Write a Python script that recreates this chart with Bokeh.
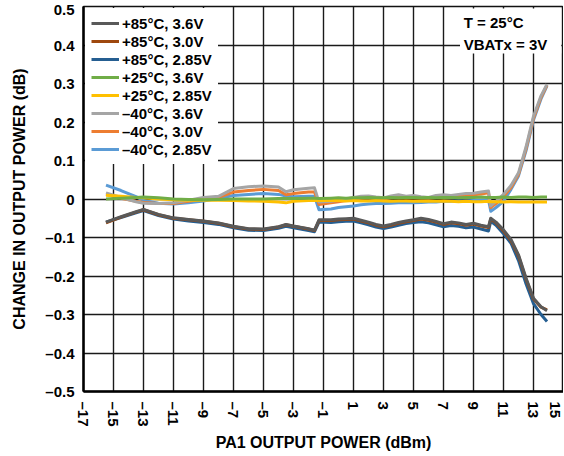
from bokeh.plotting import figure
from bokeh.models import Range1d, FixedTicker, Legend, LegendItem, Label, BoxAnnotation
from bokeh.embed import file_html
from bokeh.resources import INLINE

# ---- data ----
X = [-15.5, -14.5, -13.5, -13, -12, -11, -10, -9, -8, -7, -6, -5, -4, -3.5, -3, -2, -1.6, -1.3,
     -0.5, 0, 0.5, 1, 1.5, 2, 2.5, 3, 3.5, 4, 4.5, 5, 5.5, 6, 6.5, 7, 7.5, 8, 8.5, 9, 9.5, 10,
     10.15, 10.5, 11, 11.5, 12, 12.5, 13, 13.5, 13.9]

P85_36 = [-0.060, -0.046, -0.033, -0.027, -0.040, -0.049, -0.053, -0.057, -0.062, -0.071, -0.077, -0.078,
          -0.072, -0.066, -0.070, -0.077, -0.081, -0.054, -0.054, -0.052, -0.051, -0.050, -0.055, -0.060,
          -0.066, -0.070, -0.066, -0.061, -0.057, -0.054, -0.050, -0.053, -0.058, -0.064, -0.060, -0.062,
          -0.066, -0.063, -0.068, -0.072, -0.050, -0.060, -0.080, -0.105, -0.145, -0.205, -0.258, -0.280, -0.290]
P85_30 = [-0.062, -0.047, -0.034, -0.028, -0.041, -0.050, -0.054, -0.058, -0.063, -0.072, -0.078, -0.079,
          -0.073, -0.067, -0.071, -0.078, -0.082, -0.056, -0.056, -0.054, -0.053, -0.052, -0.057, -0.062,
          -0.068, -0.072, -0.068, -0.063, -0.059, -0.056, -0.052, -0.055, -0.060, -0.066, -0.062, -0.064,
          -0.068, -0.065, -0.070, -0.074, -0.052, -0.062, -0.083, -0.108, -0.148, -0.208, -0.260, -0.281, -0.288]
P85_285 = [-0.060, -0.048, -0.036, -0.030, -0.043, -0.052, -0.057, -0.061, -0.066, -0.075, -0.081, -0.082,
           -0.076, -0.071, -0.075, -0.082, -0.085, -0.060, -0.061, -0.059, -0.058, -0.057, -0.062, -0.067,
           -0.073, -0.077, -0.073, -0.068, -0.064, -0.061, -0.059, -0.062, -0.067, -0.072, -0.069, -0.071,
           -0.075, -0.073, -0.078, -0.083, -0.058, -0.068, -0.090, -0.115, -0.160, -0.220, -0.272, -0.300, -0.318]
P25_36 = [0.000, 0.002, 0.004, 0.005, 0.003, 0.000, -0.001, -0.002, -0.001, 0.000, 0.000, 0.000,
          0.001, 0.001, 0.001, 0.002, 0.002, 0.001, 0.002, 0.003, 0.002, 0.003, 0.003, 0.004,
          0.003, 0.003, 0.004, 0.003, 0.004, 0.004, 0.003, 0.004, 0.003, 0.004, 0.004, 0.003,
          0.004, 0.004, 0.005, 0.004, 0.004, 0.004, 0.005, 0.004, 0.005, 0.005, 0.004, 0.005, 0.005]
P25_285 = [0.010, 0.007, 0.004, 0.003, 0.000, -0.002, -0.003, -0.003, -0.003, -0.004, -0.005, -0.006,
           -0.008, -0.010, -0.006, -0.004, -0.004, -0.004, -0.004, -0.004, -0.005, -0.004, -0.005, -0.005,
           -0.004, -0.005, -0.006, -0.005, -0.005, -0.006, -0.005, -0.006, -0.006, -0.005, -0.006, -0.007,
           -0.006, -0.007, -0.007, -0.006, -0.007, -0.007, -0.008, -0.007, -0.008, -0.008, -0.008, -0.008, -0.008]
M40_36 = [0.016, 0.004, -0.007, -0.011, -0.012, -0.010, -0.003, 0.004, 0.007, 0.027, 0.032, 0.034,
          0.031, 0.019, 0.024, 0.028, 0.029, -0.008, -0.006, -0.003, 0.000, 0.004, 0.007, 0.008,
          0.005, 0.003, 0.008, 0.011, 0.007, 0.009, 0.006, 0.004, 0.009, 0.011, 0.009, 0.012,
          0.014, 0.015, 0.018, 0.021, -0.018, -0.006, 0.012, 0.035, 0.068, 0.135, 0.215, 0.268, 0.298]
M40_30 = [0.012, 0.002, -0.006, -0.009, -0.012, -0.012, -0.006, 0.000, 0.004, 0.018, 0.022, 0.025,
          0.022, 0.011, 0.014, 0.018, 0.018, -0.014, -0.010, -0.007, -0.004, 0.000, 0.002, 0.003,
          0.001, 0.000, 0.003, 0.005, 0.003, 0.004, 0.003, 0.002, 0.004, 0.006, 0.006, 0.008,
          0.010, 0.011, 0.013, 0.016, -0.022, -0.012, 0.006, 0.030, 0.064, 0.130, 0.210, 0.264, 0.296]
M40_285 = [0.036, 0.022, 0.006, -0.004, -0.011, -0.013, -0.010, -0.005, 0.002, 0.009, 0.012, 0.014,
           0.012, 0.008, 0.006, 0.007, 0.007, -0.028, -0.026, -0.022, -0.020, -0.018, -0.015, -0.013,
           -0.012, -0.012, -0.011, -0.010, -0.010, -0.010, -0.009, -0.008, -0.008, -0.006, -0.006, -0.005,
           -0.005, -0.004, -0.003, -0.002, -0.032, -0.022, -0.006, 0.025, 0.060, 0.125, 0.205, 0.260, 0.294]

SERIES = [
    ("+85°C, 3.6V", P85_36, "#595959"),
    ("+85°C, 3.0V", P85_30, "#9E480E"),
    ("+85°C, 2.85V", P85_285, "#255E91"),
    ("+25°C, 3.6V", P25_36, "#70AD47"),
    ("+25°C, 2.85V", P25_285, "#FFC000"),
    ("\u201340°C, 3.6V", M40_36, "#A5A5A5"),
    ("\u201340°C, 3.0V", M40_30, "#ED7D31"),
    ("\u201340°C, 2.85V", M40_285, "#5B9BD5"),
]

X_TICKS = [-17, -15, -13, -11, -9, -7, -5, -3, -1, 1, 3, 5, 7, 9, 11, 13, 15]
X_LABELS = ["\u201317", "\u201315", "\u201313", "\u201311", "\u20139", "\u20137", "\u20135", "\u20133",
            "\u20131", "1", "3", "5", "7", "9", "11", "13", "15"]
Y_TICKS = [-0.5, -0.4, -0.3, -0.2, -0.1, 0, 0.1, 0.2, 0.3, 0.4, 0.5]
Y_LABELS = ["\u20130.5", "\u20130.4", "\u20130.3", "\u20130.2", "\u20130.1", "0",
            "0.1", "0.2", "0.3", "0.4", "0.5"]

FONT = "Liberation Sans"

p = figure(frame_width=480, frame_height=385, x_range=Range1d(-17, 15), y_range=Range1d(-0.5, 0.5),
           output_backend="svg", toolbar_location=None,
           min_border_left=83, min_border_right=0, min_border_top=6, min_border_bottom=50)
p.background_fill_color = "white"
p.border_fill_color = "white"
p.outline_line_color = "#111111"
p.outline_line_width = 1.5

for ax, ticks, labels in ((p.xaxis[0], X_TICKS, X_LABELS), (p.yaxis[0], Y_TICKS, Y_LABELS)):
    ax.ticker = FixedTicker(ticks=ticks)
    ax.major_label_overrides = dict(zip(ticks, labels))
    ax.axis_line_color = "#000000"
    ax.axis_line_width = 2.5
    ax.major_tick_in = 0
    ax.major_tick_out = 0
    ax.minor_tick_in = 0
    ax.minor_tick_out = 0
    ax.major_label_text_font = FONT
    ax.major_label_text_font_style = "bold"
    ax.major_label_text_font_size = "15px"
    ax.major_label_text_color = "#000000"
    ax.axis_label_text_font = FONT
    ax.axis_label_text_font_style = "bold"
    ax.axis_label_text_font_size = "16px"
    ax.axis_label_text_color = "#000000"

p.xaxis.major_label_orientation = "vertical"
p.xaxis.major_label_standoff = 10
p.xaxis.axis_label = "PA1 OUTPUT POWER (dBm)"
p.xaxis.axis_label_standoff = 4
p.yaxis.major_label_standoff = 9
p.yaxis.axis_label = "CHANGE IN OUTPUT POWER (dB)"
p.yaxis.axis_label_standoff = 14

p.xgrid.ticker = FixedTicker(ticks=X_TICKS)
p.ygrid.ticker = FixedTicker(ticks=Y_TICKS)
for g in (p.xgrid[0], p.ygrid[0]):
    g.grid_line_color = "#1a1a1a"
    g.grid_line_width = 1.4

renderers = {}
for name, ys, color in reversed(SERIES):
    renderers[name] = p.line(X, ys, line_color=color, line_width=3, line_join="round")

legend = Legend(items=[LegendItem(label=name, renderers=[renderers[name]]) for name, _, _ in SERIES],
                location="top_left")
legend.label_text_font = FONT
legend.label_text_font_style = "bold"
legend.label_text_font_size = "15px"
legend.label_text_color = "#000000"
legend.glyph_width = 28
legend.glyph_height = 18
legend.label_height = 18
legend.label_standoff = 3
legend.spacing = 0
legend.padding = 6
legend.margin = 2
legend.border_line_alpha = 0
legend.background_fill_color = "white"
legend.background_fill_alpha = 1
p.add_layout(legend)

p.add_layout(BoxAnnotation(left=8.1, right=14.85, bottom=0.378, top=0.495,
                           fill_color="white", fill_alpha=1, line_alpha=0))
for txt, yy in (("T = 25°C", 0.458), ("VBATx = 3V", 0.402)):
    p.add_layout(Label(x=8.35, y=yy, text=txt, text_font=FONT, text_font_style="bold",
                       text_font_size="15px", text_color="#000000", text_baseline="middle"))

open("out.html", "w").write(file_html(p, INLINE))
